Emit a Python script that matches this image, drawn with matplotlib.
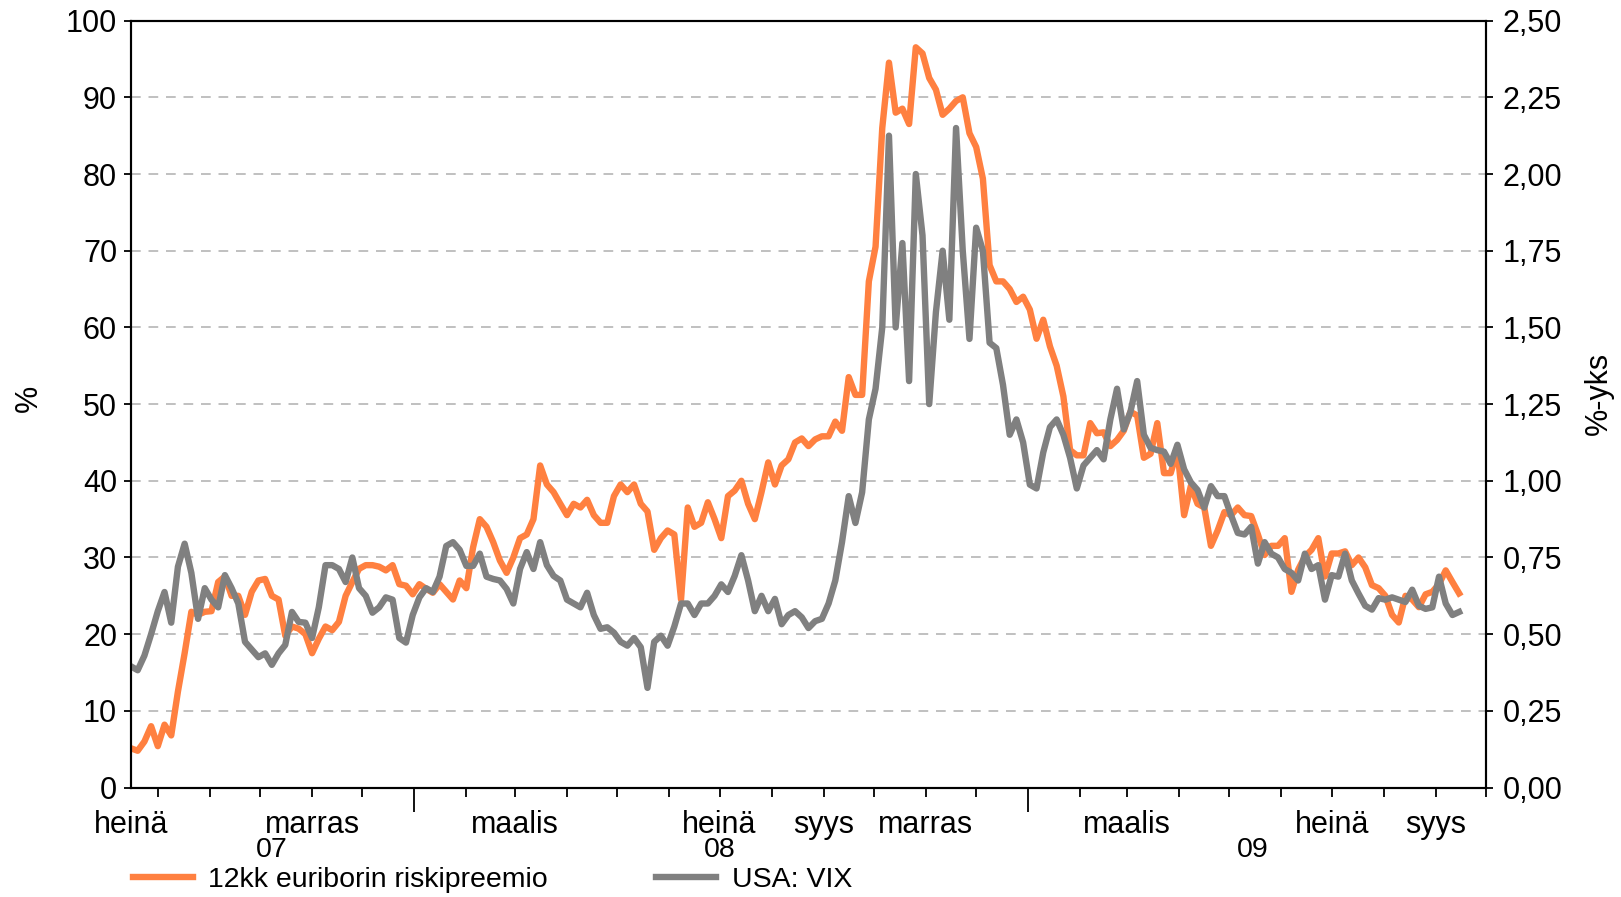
import numpy as np
import pandas as pd
import matplotlib
matplotlib.use("Agg")
import matplotlib.pyplot as plt
import matplotlib.dates as mdates
from matplotlib.ticker import NullFormatter

plt.rcParams['font.family'] = ['Liberation Sans', 'DejaVu Sans']

# sampled every 4 days from mid July 2007
dates = pd.date_range("2007-07-16", periods=199, freq="4D")

# 12kk euriborin riskipreemio, %-yks (right axis)
euribor_premium = [
    0.128, 0.12, 0.15, 0.2, 0.135, 0.205, 0.17, 0.313, 0.438, 0.573,
    0.563, 0.573, 0.575, 0.67, 0.688, 0.625, 0.625, 0.563, 0.638, 0.675,
    0.68, 0.625, 0.613, 0.495, 0.525, 0.518, 0.5, 0.438, 0.485, 0.525,
    0.513, 0.54, 0.625, 0.67, 0.713, 0.725, 0.725, 0.72, 0.708, 0.725,
    0.663, 0.658, 0.63, 0.663, 0.648, 0.635, 0.663, 0.638, 0.613, 0.675,
    0.65, 0.783, 0.875, 0.85, 0.8, 0.74, 0.7, 0.75, 0.813, 0.825,
    0.875, 1.05, 0.988, 0.963, 0.925, 0.888, 0.925, 0.913, 0.938, 0.888,
    0.863, 0.863, 0.95, 0.988, 0.963, 0.988, 0.925, 0.9, 0.775, 0.813,
    0.838, 0.825, 0.613, 0.913, 0.85, 0.863, 0.93, 0.875, 0.813, 0.95,
    0.968, 1.0, 0.925, 0.875, 0.963, 1.06, 0.988, 1.05, 1.07, 1.125,
    1.138, 1.113, 1.135, 1.145, 1.145, 1.193, 1.163, 1.338, 1.28, 1.28,
    1.65, 1.763, 2.15, 2.363, 2.2, 2.213, 2.163, 2.413, 2.393, 2.313,
    2.275, 2.193, 2.213, 2.238, 2.25, 2.133, 2.088, 1.985, 1.703, 1.65,
    1.65, 1.625, 1.583, 1.6, 1.558, 1.463, 1.525, 1.438, 1.375, 1.275,
    1.1, 1.083, 1.083, 1.188, 1.155, 1.158, 1.113, 1.133, 1.163, 1.225,
    1.213, 1.075, 1.088, 1.188, 1.025, 1.025, 1.1, 0.888, 0.983, 0.925,
    0.913, 0.788, 0.838, 0.898, 0.888, 0.913, 0.888, 0.885, 0.825, 0.758,
    0.788, 0.788, 0.813, 0.638, 0.71, 0.753, 0.775, 0.813, 0.688, 0.763,
    0.763, 0.77, 0.725, 0.75, 0.718, 0.66, 0.65, 0.625, 0.563, 0.538,
    0.625, 0.613, 0.588, 0.63, 0.638, 0.663, 0.708, 0.67, 0.633,
]

# USA: VIX, % (left axis)
vix = [
    15.8, 15.3, 17.2, 20, 23, 25.5, 21.5, 28.8, 31.8, 28,
    22, 26, 24.5, 23.5, 27.7, 26, 24, 19, 18, 17,
    17.5, 16, 17.5, 18.6, 22.9, 21.6, 21.5, 19.5, 23.5, 29,
    29, 28.5, 26.8, 30, 26, 25, 22.8, 23.5, 24.8, 24.5,
    19.5, 18.9, 22.5, 24.8, 26, 25.5, 27.5, 31.5, 32, 31,
    28.9, 28.9, 30.5, 27.5, 27.2, 27, 25.9, 24, 28.5, 30.7,
    28.5, 32, 29, 27.6, 27, 24.5, 24, 23.5, 25.4, 22.5,
    20.7, 20.9, 20.2, 19, 18.5, 19.5, 18.3, 13, 19, 19.8,
    18.5, 21, 24, 24, 22.5, 24, 24, 25, 26.5, 25.5,
    27.6, 30.3, 27, 23, 25, 23, 24.6, 21.3, 22.5, 23,
    22.2, 20.8, 21.7, 22, 24, 27, 32, 38, 34.5, 38.5,
    48, 52, 60, 85, 60, 71, 53, 80, 72, 50,
    62, 70, 61, 86, 70, 58.5, 73, 70, 58, 57.3,
    52.5, 46, 48, 45, 39.5, 39, 43.7, 47, 48, 46,
    43, 39, 42, 43, 44, 42.8, 48, 52, 46.7, 49,
    53, 46, 44.3, 44, 43.8, 42.2, 44.7, 41.5, 39.8, 38.8,
    36.5, 39.3, 38, 38, 35.5, 33.2, 33, 34, 29.2, 32,
    30.5, 30, 28.5, 28, 27, 30.5, 28.5, 29, 24.5, 27.7,
    27.5, 30.5, 27, 25.3, 23.7, 23.2, 24.7, 24.5, 24.8, 24.5,
    24.2, 25.8, 23.7, 23.3, 23.5, 27.5, 24, 22.5, 22.9,
]

month_labels = ["heinä", "marras", "maalis", "heinä", "syys",
                "marras", "maalis", "heinä", "syys"]
month_label_dates = ["2007-07-16", "2007-11-01", "2008-03-01", "2008-07-01",
                     "2008-09-01", "2008-11-01", "2009-03-01", "2009-07-01",
                     "2009-09-01"]
year_labels = ["07", "08", "09"]
year_label_dates = ["2007-10-08", "2008-07-01", "2009-05-15"]

left_ticks = list(range(0, 101, 10))
right_ticks = [0.0, 0.25, 0.5, 0.75, 1.0, 1.25, 1.5, 1.75, 2.0, 2.25, 2.5]

ORANGE = "#FF8040"
GRAY = "#808080"
FS = 22
FS_LOW = 20.5

fig = plt.figure(figsize=(16.21, 8.97), dpi=100)
ax = fig.add_axes([0.0808, 0.122, 0.8359, 0.855])
ax2 = ax.twinx()
# gray line on top of the orange one
ax.set_zorder(ax2.get_zorder() + 1)
ax.patch.set_visible(False)

l1, = ax2.plot(dates, euribor_premium, color=ORANGE, lw=4.6,
               label="12kk euriborin riskipreemio")
l2, = ax.plot(dates, vix, color=GRAY, lw=4.6, label="USA: VIX")

ax.set_xlim(pd.Timestamp("2007-07-16"), pd.Timestamp("2009-10-01"))
ax.set_ylim(0, 100)
ax2.set_ylim(0, 2.5)

ax.set_yticks(left_ticks)
ax.set_yticklabels([str(t) for t in left_ticks])
ax2.set_yticks(right_ticks)
ax2.set_yticklabels([f"{t:.2f}".replace(".", ",") for t in right_ticks])
ax2.yaxis.grid(True, linestyle=(0, (5, 4)), color="#C0C0C0", lw=1.4)
ax2.set_axisbelow(True)

ax.tick_params(axis="y", direction="out", length=5, width=1.3, pad=5, labelsize=FS)
ax2.tick_params(axis="y", direction="out", length=5, width=1.3, pad=7, labelsize=FS)

ax.xaxis.set_major_locator(mdates.YearLocator())
ax.xaxis.set_minor_locator(mdates.MonthLocator())
ax.xaxis.set_major_formatter(NullFormatter())
ax.xaxis.set_minor_formatter(NullFormatter())
ax.tick_params(axis="x", which="major", direction="out", length=17, width=1.3)
ax.tick_params(axis="x", which="minor", direction="out", length=6.5, width=1.3)

for a in (ax, ax2):
    for s in a.spines.values():
        s.set_linewidth(1.5)
        s.set_color("black")

for lab, d in zip(month_labels, month_label_dates):
    ax.text(pd.Timestamp(d), -0.049, lab, transform=ax.get_xaxis_transform(),
            ha="center", va="center", fontsize=FS)
for lab, d in zip(year_labels, year_label_dates):
    ax.text(pd.Timestamp(d), -0.082, lab, transform=ax.get_xaxis_transform(),
            ha="center", va="center", fontsize=FS_LOW)

fig.text(29 / 1621, 1 - 398 / 897, "%", rotation=90, ha="center", va="center", fontsize=FS)
fig.text(1599 / 1621, 1 - 393 / 897, "%-yks", rotation=90, ha="center", va="center", fontsize=FS)

fig.legend(handles=[l1, l2], loc="center left", bbox_to_anchor=(0.082, 1 - 880 / 897),
           ncol=2, frameon=False, fontsize=FS_LOW, handlelength=2.1, handletextpad=0.55,
           columnspacing=3.8, borderpad=0, borderaxespad=0)

fig.savefig("out.png", dpi=100)
